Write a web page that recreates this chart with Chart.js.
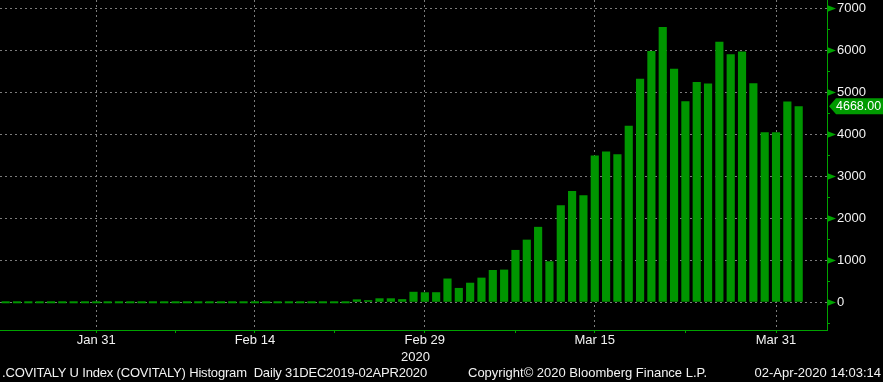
<!DOCTYPE html>
<html><head><meta charset="utf-8">
<script src="https://cdn.jsdelivr.net/npm/chart.js@4/dist/chart.umd.min.js"></script>
<style>
html,body{margin:0;padding:0;background:#000;}
#wrap{position:relative;width:883px;height:382px;background:#000;overflow:hidden;}
canvas{position:absolute;left:0;top:0;}
.t{position:absolute;font-family:'Liberation Sans',Arial,sans-serif;font-size:13px;line-height:15px;color:#f2f2f2;white-space:pre;}
</style></head><body>
<div id="wrap"><canvas id="c" width="883" height="382"></canvas>
<div class="t" style="left:401px;top:349px">2020</div>
<div class="t" style="left:2px;top:365px;letter-spacing:-0.18px">.COVITALY U Index (COVITALY) Histogram  Daily 31DEC2019-02APR2020</div>
<div class="t" style="left:468px;top:365px">Copyright© 2020 Bloomberg Finance L.P.</div>
<div class="t" style="right:2px;top:365px">02-Apr-2020 14:03:14</div>
</div>
<script>
const dates = [
 'Jan 23','Jan 24','Jan 25','Jan 26','Jan 27','Jan 28','Jan 29','Jan 30','Jan 31',
 'Feb 1','Feb 2','Feb 3','Feb 4','Feb 5','Feb 6','Feb 7','Feb 8','Feb 9','Feb 10','Feb 11','Feb 12','Feb 13','Feb 14',
 'Feb 15','Feb 16','Feb 17','Feb 18','Feb 19','Feb 20','Feb 21','Feb 22','Feb 23','Feb 24','Feb 25','Feb 26','Feb 27','Feb 28','Feb 29',
 'Mar 1','Mar 2','Mar 3','Mar 4','Mar 5','Mar 6','Mar 7','Mar 8','Mar 9','Mar 10','Mar 11','Mar 12','Mar 13','Mar 14','Mar 15',
 'Mar 16','Mar 17','Mar 18','Mar 19','Mar 20','Mar 21','Mar 22','Mar 23','Mar 24','Mar 25','Mar 26','Mar 27','Mar 28','Mar 29','Mar 30','Mar 31',
 'Apr 1','Apr 2','Apr 3','Apr 4'
];
const cases = [
 0,0,0,0,0,0,0,0,0,
 0,0,0,0,0,0,0,0,0,0,0,0,0,0,
 0,0,0,0,0,0,0,0,70,50,95,95,75,250,238,
 240,566,342,466,587,769,778,1247,1492,1797,977,2313,2651,2547,3497,
 3590,3526,4207,5322,5986,6557,5560,4789,5249,5210,6203,5909,5974,5217,4050,4053,
 4782,4668,null,null
];
const xMajorTicks = ['Jan 31','Feb 14','Feb 29','Mar 15','Mar 31'];
const xMinorTicks = ['Feb 7','Feb 21','Mar 8','Mar 23'];
const yMajorTicks = [0,1000,2000,3000,4000,5000,6000,7000];
const yMinorTicks = [-500,500,1500,2500,3500,4500,5500,6500];
const lastValue = 4668;

const BAR = '#009600', AXIS = '#00a300', GRID = '#7c7c7c', TXT = '#f2f2f2';
const FONT = {family:"'Liberation Sans', Arial, sans-serif", size:13};

const decor = {
  id:'decor',
  afterDraw(chart){
    const ctx = chart.ctx, ys = chart.scales.y, a = chart.chartArea;
    ctx.save();
    ctx.fillStyle = AXIS; ctx.strokeStyle = AXIS; ctx.lineWidth = 1;
    yMajorTicks.forEach(v => {
      const py = Math.round(ys.getPixelForValue(v));
      ctx.beginPath();
      ctx.moveTo(a.right, py - 3);
      ctx.lineTo(a.right + 9, py + 0.5);
      ctx.lineTo(a.right, py + 4);
      ctx.closePath(); ctx.fill();
    });
    yMinorTicks.forEach(v => {
      const py = Math.round(ys.getPixelForValue(v));
      ctx.beginPath();
      ctx.moveTo(a.right, py + 0.5);
      ctx.lineTo(a.right + 3, py + 0.5);
      ctx.stroke();
    });
    // last value tag
    const ty = ys.getPixelForValue(lastValue);
    ctx.fillStyle = '#009a00';
    ctx.beginPath();
    ctx.moveTo(a.right + 2, ty);
    ctx.lineTo(a.right + 9, ty - 8);
    ctx.lineTo(chart.width, ty - 8);
    ctx.lineTo(chart.width, ty + 8);
    ctx.lineTo(a.right + 9, ty + 8);
    ctx.closePath(); ctx.fill();
    ctx.fillStyle = '#ffffff';
    ctx.font = "12.5px 'Liberation Sans', Arial, sans-serif";
    ctx.textBaseline = 'middle'; ctx.textAlign = 'left';
    ctx.fillText(lastValue.toFixed(2), a.right + 9, ty + 0.5);
    ctx.restore();
  }
};

new Chart(document.getElementById('c'), {
  type:'bar',
  data:{labels:dates, datasets:[{data:cases, backgroundColor:BAR, borderWidth:0,
    categoryPercentage:1, barPercentage:0.72, minBarLength:2}]},
  options:{
    responsive:false, animation:false, devicePixelRatio:1,
    layout:{padding:0},
    plugins:{legend:{display:false}, tooltip:{enabled:false}},
    scales:{
      x:{
        type:'category', offset:true,
        grid:{offset:false, drawOnChartArea:true, drawTicks:true, tickLength:3, lineWidth:1,
          color: c => (c.tick && xMajorTicks.includes(dates[c.index])) ? GRID : 'rgba(0,0,0,0)',
          tickColor: c => (c.tick && (xMajorTicks.includes(dates[c.index]) || xMinorTicks.includes(dates[c.index]))) ? AXIS : 'rgba(0,0,0,0)'
        },
        border:{display:true, color:AXIS, width:1, dash:[2,3]},
        ticks:{autoSkip:false, maxRotation:0, minRotation:0, padding:0, color:TXT, font:FONT,
          callback:(v,i) => xMajorTicks.includes(dates[i]) ? dates[i] : ''},
        afterFit: s => { s.height = 52; s.paddingLeft = 0; s.paddingRight = 0; }
      },
      y:{
        position:'right', min:-660, max:7200,
        afterBuildTicks: s => { s.ticks = yMajorTicks.map(v => ({value:v})); },
        grid:{drawTicks:false, lineWidth:1, color:GRID},
        border:{display:true, color:AXIS, width:1, dash:[2,3]},
        ticks:{autoSkip:false, padding:10, color:TXT, font:FONT,
          callback: v => String(v)},
        afterFit: s => { s.width = 56; s.paddingTop = 0; s.paddingBottom = 0; }
      }
    }
  },
  plugins:[decor]
});
</script>
</body></html>
